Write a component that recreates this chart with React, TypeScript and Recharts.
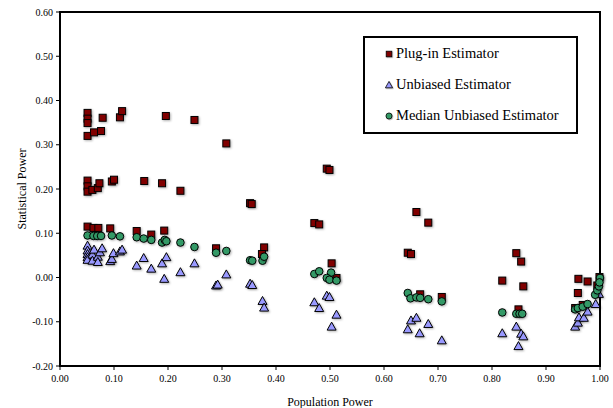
import React from 'react';
import {
  ScatterChart,
  Scatter,
  XAxis,
  YAxis,
  Legend,
  ReferenceArea,
} from 'recharts';

// [population power, statistical power]
const plugIn: number[][] = [
  [0.051, 0.372], [0.051, 0.359], [0.051, 0.349], [0.051, 0.32], [0.063, 0.328],
  [0.076, 0.331], [0.079, 0.361], [0.111, 0.362], [0.115, 0.376], [0.196, 0.365],
  [0.249, 0.356], [0.051, 0.219], [0.051, 0.206], [0.051, 0.194], [0.06, 0.198],
  [0.07, 0.202], [0.073, 0.213], [0.096, 0.217], [0.1, 0.221], [0.156, 0.218],
  [0.189, 0.213], [0.223, 0.196], [0.308, 0.303], [0.494, 0.246], [0.499, 0.243],
  [0.352, 0.168], [0.355, 0.166], [0.051, 0.115], [0.062, 0.112], [0.071, 0.112],
  [0.093, 0.111], [0.142, 0.105], [0.169, 0.097], [0.193, 0.106], [0.289, 0.066],
  [0.471, 0.123], [0.48, 0.12], [0.378, 0.068], [0.374, 0.053], [0.503, 0.032],
  [0.512, -0.001], [0.66, 0.148], [0.682, 0.124], [0.644, 0.056], [0.65, 0.053],
  [0.667, -0.038], [0.707, -0.044], [0.845, 0.055], [0.854, 0.036], [0.819, -0.007],
  [0.858, -0.02], [0.849, -0.072], [0.96, -0.003], [0.977, -0.009], [0.959, -0.035],
  [0.999, 0.001], [0.995, -0.018], [0.968, -0.062], [0.954, -0.069],
];

const unbiased: number[][] = [
  [0.051, 0.072], [0.051, 0.061], [0.051, 0.053], [0.051, 0.046], [0.051, 0.04],
  [0.06, 0.052], [0.063, 0.063], [0.06, 0.038], [0.07, 0.047], [0.07, 0.035],
  [0.074, 0.057], [0.078, 0.066], [0.093, 0.037], [0.096, 0.042], [0.099, 0.055],
  [0.111, 0.059], [0.115, 0.063], [0.142, 0.027], [0.155, 0.044], [0.169, 0.02],
  [0.189, 0.032], [0.197, 0.046], [0.193, -0.003], [0.223, 0.012], [0.249, 0.032],
  [0.289, -0.018], [0.292, -0.016], [0.308, 0.007], [0.352, -0.014], [0.356, -0.017],
  [0.375, -0.053], [0.378, -0.068], [0.471, -0.056], [0.48, -0.069], [0.494, -0.041],
  [0.499, -0.044], [0.512, -0.084], [0.503, -0.111], [0.65, -0.097], [0.66, -0.091],
  [0.644, -0.117], [0.666, -0.126], [0.682, -0.105], [0.707, -0.142], [0.819, -0.126],
  [0.845, -0.111], [0.854, -0.127], [0.858, -0.133], [0.849, -0.155], [0.954, -0.111],
  [0.959, -0.102], [0.961, -0.09], [0.97, -0.091], [0.977, -0.077], [0.992, -0.06],
  [0.998, -0.037],
];

const medianUnbiased: number[][] = [
  [0.051, 0.095], [0.062, 0.094], [0.069, 0.094], [0.076, 0.094], [0.096, 0.095],
  [0.111, 0.093], [0.142, 0.091], [0.155, 0.088], [0.169, 0.085], [0.189, 0.079],
  [0.194, 0.085], [0.197, 0.082], [0.223, 0.079], [0.249, 0.069], [0.289, 0.056],
  [0.308, 0.06], [0.352, 0.039], [0.356, 0.038], [0.375, 0.038], [0.378, 0.047],
  [0.471, 0.008], [0.48, 0.014], [0.502, 0.011], [0.494, -0.001], [0.499, -0.005],
  [0.512, -0.007], [0.644, -0.035], [0.649, -0.047], [0.66, -0.045], [0.667, -0.046],
  [0.682, -0.049], [0.707, -0.054], [0.819, -0.079], [0.845, -0.082], [0.851, -0.082],
  [0.856, -0.082], [0.954, -0.072], [0.959, -0.069], [0.968, -0.066], [0.977, -0.06],
  [0.991, -0.039], [0.995, -0.029], [0.998, -0.02], [1.0, -0.001], [0.999, -0.011],
];

const xTicks = [0, 0.1, 0.2, 0.3, 0.4, 0.5, 0.6, 0.7, 0.8, 0.9, 1.0];
const yTicks = [-0.2, -0.1, 0, 0.1, 0.2, 0.3, 0.4, 0.5, 0.6];

const font = "'Liberation Serif', 'DejaVu Serif', serif";
const shadow = { filter: 'drop-shadow(1px 1px 0.8px rgba(0,0,0,0.3))' };

const toPoints = (rows: number[][]) => rows.map(([x, y]) => ({ x, y }));

const Square = (props: any) => (
  <rect
    x={props.cx - 3.5}
    y={props.cy - 3.5}
    width={7}
    height={7}
    fill="#800000"
    stroke="#000"
    strokeWidth={1}
    style={shadow}
  />
);

const Triangle = (props: any) => {
  const { cx, cy } = props;
  return (
    <polygon
      points={`${cx},${cy - 4.5} ${cx - 4.5},${cy + 3.5} ${cx + 4.5},${cy + 3.5}`}
      fill="#9999FF"
      stroke="#000"
      strokeWidth={1}
      style={shadow}
    />
  );
};

const Circle = (props: any) => (
  <circle cx={props.cx} cy={props.cy} r={3.8} fill="#339966" stroke="#000" strokeWidth={1} style={shadow} />
);

const series = [
  { name: 'Plug-in Estimator', data: plugIn, shape: Square },
  { name: 'Unbiased Estimator', data: unbiased, shape: Triangle },
  { name: 'Median Unbiased Estimator', data: medianUnbiased, shape: Circle },
];

const renderLegend = () => (
  <div
    style={{
      border: '2px solid #000',
      background: '#fff',
      width: 215,
      height: 98,
      fontFamily: font,
      fontSize: 14.5,
      color: '#000',
      boxSizing: 'border-box',
    }}
  >
    {series.map((s) => {
      const Shape = s.shape;
      return (
        <div key={s.name} style={{ display: 'flex', alignItems: 'center', height: 31, paddingLeft: 20 }}>
          <svg width={8} height={8} viewBox="0 0 10 10" style={{ marginRight: 3, overflow: 'visible' }}>
            <Shape cx={5} cy={5} />
          </svg>
          <span>{s.name}</span>
        </div>
      );
    })}
  </div>
);

export default function App() {
  return (
    <div style={{ position: 'absolute', left: 0, top: 0, background: '#fff' }}>
      <ScatterChart width={613} height={408} margin={{ top: 12, right: 13, bottom: 2, left: 4 }}>
        <XAxis
          type="number"
          dataKey="x"
          domain={[0, 1]}
          ticks={xTicks}
          tickFormatter={(v: number) => v.toFixed(2)}
          tick={{ fontSize: 10, fill: '#000', fontFamily: font }}
          tickSize={4}
          tickMargin={5}
          height={40}
          axisLine={{ stroke: '#000', strokeWidth: 2 }}
          tickLine={{ stroke: '#000' }}
          label={{ value: 'Population Power', position: 'insideBottom', offset: 0, fontSize: 12, fill: '#000', fontFamily: font }}
        />
        <YAxis
          type="number"
          dataKey="y"
          domain={[-0.2, 0.6]}
          ticks={yTicks}
          tickFormatter={(v: number) => v.toFixed(2)}
          tick={{ fontSize: 10, fill: '#000', fontFamily: font }}
          tickSize={4}
          tickMargin={3}
          width={56}
          axisLine={{ stroke: '#000', strokeWidth: 2 }}
          tickLine={{ stroke: '#000' }}
          label={{
            value: 'Statistical Power',
            angle: -90,
            position: 'insideLeft',
            offset: 18,
            fontSize: 12,
            fill: '#000',
            fontFamily: font,
            style: { textAnchor: 'middle' },
          }}
        />
        <ReferenceArea x1={0} x2={1} y1={-0.2} y2={0.6} fill="none" stroke="#000" strokeWidth={2} />
        {series.map((s) => (
          <Scatter
            key={s.name}
            name={s.name}
            data={toPoints(s.data)}
            shape={s.shape}
            isAnimationActive={false}
          />
        ))}
        <Legend
          layout="vertical"
          align="center"
          verticalAlign="middle"
          content={renderLegend}
          wrapperStyle={{ left: 363, top: 36, width: 215 }}
        />
      </ScatterChart>
    </div>
  );
}
